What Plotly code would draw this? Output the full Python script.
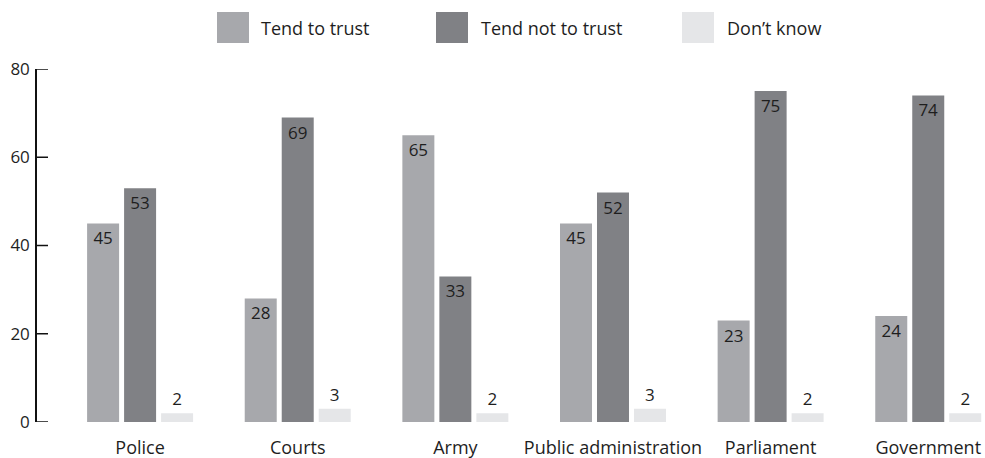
import plotly.graph_objects as go

# Survey: trust in institutions (%)
institutions = ["Police", "Courts", "Army", "Public administration", "Parliament", "Government"]
series_names = ["Tend to trust", "Tend not to trust", "Don\u2019t know"]
tend_to_trust = [45, 28, 65, 45, 23, 24]
tend_not_to_trust = [53, 69, 33, 52, 75, 74]
dont_know = [2, 3, 2, 3, 2, 2]
y_ticks = [0, 20, 40, 60, 80]

colors = ["#a7a8ac", "#808185", "#e5e6e8"]
values = [tend_to_trust, tend_not_to_trust, dont_know]
font_family = "'Open Sans', Lato, sans-serif"
text_color = "#1e1e1e"
axis_color = "#111111"

W, H = 985, 458
M_L, M_R, M_T, M_B = 37, 0, 69, 36
plot_w = W - M_L - M_R
plot_h = H - M_T - M_B


def fnt(size):
    return dict(family=font_family, size=size, color=text_color)


fig = go.Figure()
for name, vals, col in zip(series_names, values, colors):
    inside = name != series_names[2]
    fig.add_trace(go.Bar(
        x=institutions,
        y=vals,
        name=name,
        marker=dict(color=col, line=dict(width=0)),
        text=vals,
        texttemplate="%{y}",
        textposition="inside" if inside else "outside",
        insidetextanchor="end",
        textfont=fnt(17),
        outsidetextfont=fnt(17),
        insidetextfont=fnt(17),
        cliponaxis=False,
        showlegend=False,
    ))


# Legend drawn as swatches with labels above the plot
def px_x(x):
    return (x - M_L) / plot_w


def px_y(y):
    return (H - M_B - y) / plot_h


legend_items = [(217, 259), (436, 479), (682, 725)]
shapes = []
annotations = []
for (sx, tx), name, col in zip(legend_items, series_names, colors):
    shapes.append(dict(
        type="rect", xref="paper", yref="paper",
        x0=px_x(sx), x1=px_x(sx + 32), y0=px_y(43), y1=px_y(12),
        fillcolor=col, line=dict(width=0),
    ))
    annotations.append(dict(
        xref="paper", yref="paper", x=px_x(tx), y=px_y(28),
        xanchor="left", yanchor="middle", text=name, showarrow=False,
        font=fnt(18),
    ))

# Inward tick marks on the value axis
for v in y_ticks:
    shapes.append(dict(
        type="line", xref="paper", yref="y",
        x0=0, x1=px_x(48), y0=v, y1=v,
        line=dict(color=axis_color, width=1.5),
    ))

fig.update_layout(
    width=W, height=H,
    margin=dict(l=M_L, r=M_R, t=M_T, b=M_B, pad=0),
    paper_bgcolor="white", plot_bgcolor="white",
    barmode="group", bargap=0.296, bargroupgap=0.135,
    shapes=shapes, annotations=annotations,
    font=fnt(17),
)
fig.update_xaxes(
    range=[-0.654, 5.36], showline=False, ticks="", showgrid=False,
    zeroline=False, ticklabelstandoff=13,
    tickfont=fnt(18),
)
fig.update_yaxes(
    range=[0, 80], tickvals=y_ticks, showgrid=False, zeroline=False,
    showline=True, linecolor=axis_color, linewidth=1.5,
    ticks="", ticklabelstandoff=2,
    tickfont=fnt(17),
)

fig.write_html("out.html")
